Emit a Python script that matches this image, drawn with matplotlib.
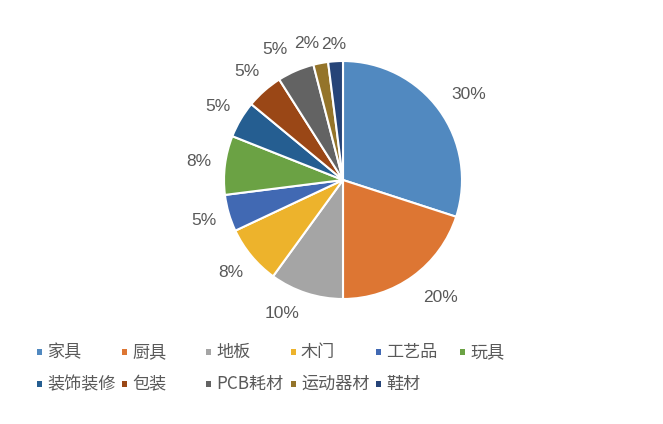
import matplotlib.pyplot as plt
from matplotlib.patches import Rectangle

plt.rcParams['font.family'] = ['Noto Sans CJK SC', 'DejaVu Sans']

# Data
categories = ["家具", "厨具", "地板", "木门", "工艺品", "玩具",
              "装饰装修", "包装", "PCB耗材", "运动器材", "鞋材"]
shares = [30, 20, 10, 8, 5, 8, 5, 5, 5, 2, 2]
colors = ["#5189C0", "#DD7633", "#A5A5A5", "#EDB32C", "#4169B3", "#6BA244",
          "#255E91", "#9A4716", "#636363", "#94742A", "#264478"]

text_color = "#595959"
W, H = 663, 424

fig = plt.figure(figsize=(W / 100, H / 100), dpi=100)

# pie axes placed so the pie is centred around (343,180) px, radius ~119 px
cx, cy, r = 343, 180, 119
pie_ax = fig.add_axes([(cx - r) / W, 1 - (cy + r) / H, 2 * r / W, 2 * r / H])
wedges, texts = pie_ax.pie(
    shares, colors=colors, startangle=90, counterclock=False,
    labels=[f"{v}%" for v in shares], labeldistance=1.22,
    wedgeprops=dict(edgecolor='white', linewidth=1.5),
    textprops=dict(color=text_color, fontsize=12.5, family=['Liberation Sans', 'DejaVu Sans']),
)

# nudge labels (in pixels) the way Excel lays them out
nudges = {0: (8, 0), 1: (12, 0), 2: (-16, 5), 8: (-10, -3), 9: (-9, -6), 10: (0, -9)}
for i, t in enumerate(texts):
    t.set_horizontalalignment('center')
    t.set_verticalalignment('center')
    dx, dy = nudges.get(i, (0, 0))
    x, y = t.get_position()
    t.set_position((x + dx / r, y + dy / r))

pie_ax.set_xlim(-1, 1)
pie_ax.set_ylim(-1, 1)
pie_ax.set_aspect('equal')

# Legend, six equal columns filled row-wise
col_x = [37, 122, 206, 291, 376, 460]
row_y = [352, 384]
for i, name in enumerate(categories):
    row, col = divmod(i, 6)
    x, y = col_x[col], row_y[row]
    fig.patches.append(Rectangle((x / W, 1 - (y + 3) / H), 5 / W, 6 / H,
                                 transform=fig.transFigure, facecolor=colors[i],
                                 edgecolor='none'))
    fig.text((x + 10) / W, 1 - y / H, name, fontsize=12.3, color=text_color,
             ha='left', va='center')

fig.savefig("out.png", dpi=100, facecolor='white')
